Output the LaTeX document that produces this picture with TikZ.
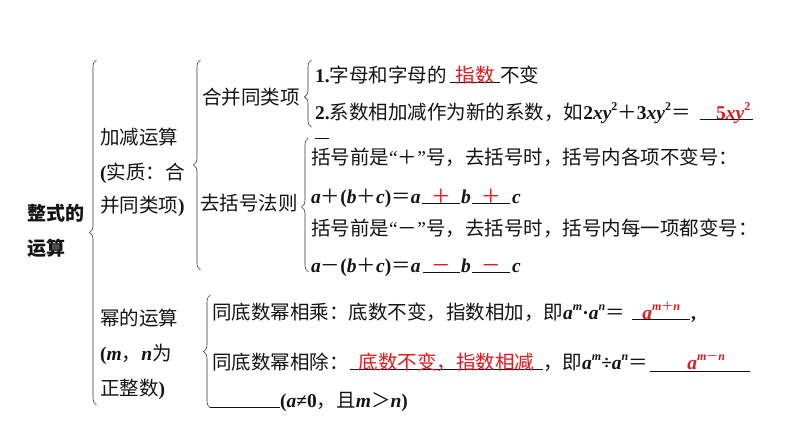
\documentclass[tikz,border=0pt]{standalone}
\usepackage{fontspec}
\setmainfont{Noto Sans CJK SC}
\newfontfamily\tnr{Liberation Serif}
\usetikzlibrary{decorations.pathreplacing}
\definecolor{ans}{RGB}{225,25,30}
\definecolor{ink}{RGB}{20,20,20}
\newcommand\mv[1]{{\tnr\bfseries\itshape #1}}
\newcommand\mb[1]{{\tnr\bfseries #1}}
\newcommand\supx[1]{\raisebox{0.45em}{\fontsize{12pt}{12pt}\selectfont #1}}
\newcommand\fs{\fontsize{19.5pt}{23pt}\selectfont}
\newcommand\bl[2]{\rlap{\color{ink}\rule[-0.6pt]{#1}{0.8pt}}\makebox[#1]{#2}}
\newcommand\bldouble[2]{\rlap{\color{ink}\rule[-2.8pt]{#1}{1.4pt}}\makebox[#1]{#2}}
\tikzset{
  txt/.style={anchor=base west, inner sep=0pt, font=\fs, text=ink},
  ansbox/.style={anchor=base west, inner sep=0pt, font=\fs, text=ans},
  bracestyle/.style={draw=ink!85, line width=0.6pt, decorate,
    decoration={brace, amplitude=7pt, aspect=#1}},
  bracestyle/.default=0.5
}
\begin{document}
\begin{tikzpicture}[x=1pt,y=-1pt]
\fill[white] (0,0) rectangle (794,447);
\useasboundingbox (0,0) rectangle (794,447);

% left labels
\node[txt, font=\fontsize{19pt}{23pt}\selectfont\bfseries] (zs1) at (27,220) {整式的};
\node[txt, font=\fontsize{19pt}{23pt}\selectfont\bfseries] (zs2) at (27,255) {运算};
\node[txt] (jj1) at (100,144.4) {加减运算};
\node[txt] (jj2) at (100,179.4) {\mb{(}实质：合};
\node[txt] (jj3) at (100,212.4) {并同类项\mb{)}};
\node[txt] (hb) at (202,104.4) {合并同类项};
\node[txt] (qk) at (200,210.4) {去括号法则};
\node[txt] (my1) at (100,325.4) {幂的运算};
\node[txt] (my2) at (100,360.4) {\mb{(}\mv{m}，\mv{n}为};
\node[txt] (my3) at (100,395.4) {正整数\mb{)}};

% braces
\coordinate (b1s) at (96.5,405); \coordinate (b1e) at (96.5,60);
\coordinate (b2s) at (200.5,270); \coordinate (b2e) at (200.5,60);
\coordinate (b3s) at (311.5,127); \coordinate (b3e) at (311.5,60);
\coordinate (b4s) at (308.5,272); \coordinate (b4e) at (308.5,138);
\coordinate (b5s) at (210.5,408); \coordinate (b5e) at (210.5,295);
\draw[bracestyle=0.5] (b1s) -- (b1e);
\draw[bracestyle=0.5] (b2s) -- (b2e);
\draw[bracestyle=0.45] (b3s) -- (b3e);
\draw[bracestyle=0.485] (b4s) -- (b4e);
\draw[bracestyle=0.5] (b5s) -- (b5e);

% 合并同类项
\node[txt] (t1) at (315,82.4) {\mb{1.}字母和字母的};
\node[ansbox] (t1b) at (450,82.4) {\bl{50pt}{指数}};
\node[txt] (t1c) at (500,82.4) {不变};
\node[txt] (t2) at (315,119.4) {\mb{2.}系数相加减作为新的系数，如\mb{2}\mv{xy}\supx{\mb{2}}＋\mb{3}\mv{xy}\supx{\mb{2}}＝};
\node[ansbox] (t2b) at (700,119.4) {\bl{53pt}{\hspace{13pt}\mb{5}\mv{xy}\supx{\mb{2}}}};
\node[txt] (t2s) at (315,138.4) {\rule{14pt}{0.8pt}};

% 去括号法则
\node[txt] (r1) at (311,164.4) {括号前是{\tnr “}＋{\tnr ”}号，去括号时，括号内各项不变号：};
\node[txt] (r2) at (311,203.4) {\mv{a}＋\mb{(}\mv{b}＋\mv{c}\mb{)}＝\mv{a}};
\node[ansbox] (r2b) at (422,203.4) {\bl{38pt}{＋}};
\node[txt] (r2c) at (461,203.4) {\mv{b}};
\node[ansbox] (r2d) at (472,203.4) {\bl{38pt}{＋}};
\node[txt] (r2e) at (512,203.4) {\mv{c}};
\node[txt] (r3) at (311,235.4) {括号前是{\tnr “}－{\tnr ”}号，去括号时，括号内每一项都变号：};
\node[txt] (r4) at (311,272.4) {\mv{a}－\mb{(}\mv{b}＋\mv{c}\mb{)}＝\mv{a}};
\node[ansbox] (r4b) at (423,272.4) {\bl{37pt}{－}};
\node[txt] (r4c) at (461,272.4) {\mv{b}};
\node[ansbox] (r4d) at (472,272.4) {\bl{38pt}{－}};
\node[txt] (r4e) at (512,272.4) {\mv{c}};

% 幂的运算
\node[txt] (p1) at (212,319.4) {同底数幂相乘：底数不变，指数相加，即\mv{a}\supx{\mv{m}}{\tnr\bfseries ·}\mv{a}\supx{\mv{n}}＝};
\node[ansbox] (p1b) at (632,319.4) {\bl{58pt}{\mv{a}\supx{\mv{m}＋\mv{n}}}};
\node[txt] (p1c) at (691,319.4) {\mb{,}};
\node[txt] (p2) at (212,369.4) {同底数幂相除：};
\node[ansbox] (p2b) at (350,369.4) {\bl{193pt}{底数不变，指数相减}};
\node[txt] (p2c) at (543,369.4) {，即\mv{a}\supx{\mv{m}}{\tnr\bfseries ÷}\mv{a}\supx{\mv{n}}＝};
\node[ansbox] (p2d) at (650,369.4) {\bldouble{100pt}{\hspace{12pt}\mv{a}\supx{\mv{m}－\mv{n}}}};
\node[ansbox] (p3) at (210,407.4) {\bl{70pt}{}};
\node[txt] (p3b) at (280,407.4) {\mb{(}\mv{a}{\tnr\bfseries ≠}\mb{0}，且\mv{m}＞\mv{n}\mb{)}};
\end{tikzpicture}
\end{document}
